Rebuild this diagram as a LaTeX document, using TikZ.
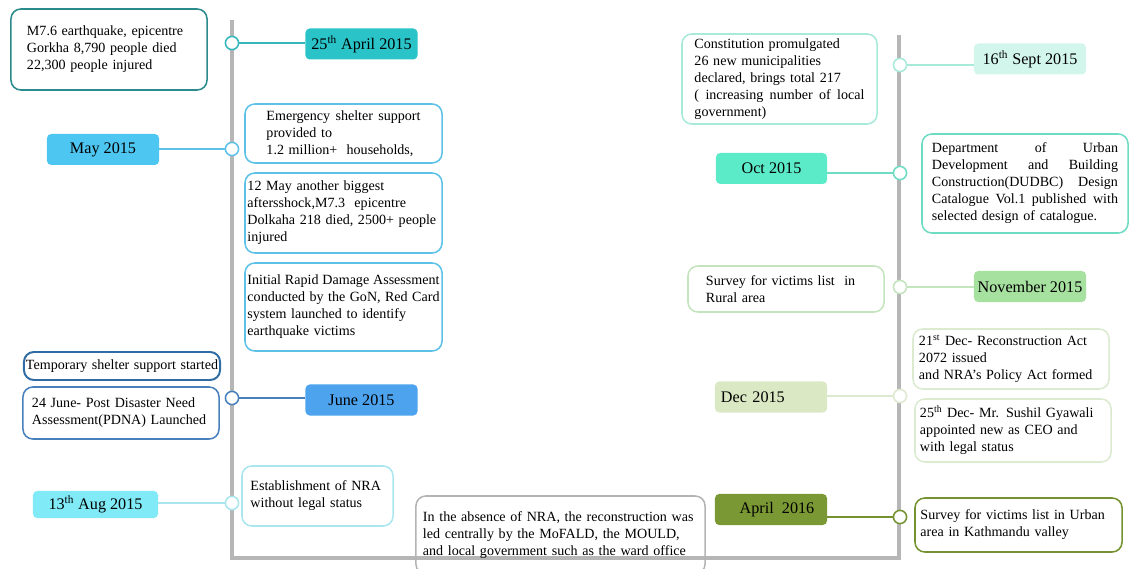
\documentclass[tikz,border=0pt]{standalone}
\usepackage{fontspec}
\setmainfont{Liberation Serif}
\usepackage{xcolor}
\usepackage{tikz}
\usetikzlibrary{positioning}
\definecolor{spine}{RGB}{182,182,182}
\definecolor{quakeline}{RGB}{42,138,140}
\definecolor{aprfill}{RGB}{42,196,200}
\definecolor{aprline}{RGB}{52,182,186}
\definecolor{mayfill}{RGB}{78,198,242}
\definecolor{mayline}{RGB}{94,194,232}
\definecolor{junefill}{RGB}{77,163,238}
\definecolor{juneline}{RGB}{72,128,188}
\definecolor{junedark}{RGB}{47,108,164}
\definecolor{augfill}{RGB}{128,234,246}
\definecolor{augline}{RGB}{170,230,238}
\definecolor{absenceline}{RGB}{180,180,180}
\definecolor{septfill}{RGB}{210,246,236}
\definecolor{septline}{RGB}{168,234,218}
\definecolor{octfill}{RGB}{92,235,201}
\definecolor{octline}{RGB}{110,220,195}
\definecolor{novfill}{RGB}{167,225,160}
\definecolor{novline}{RGB}{196,228,190}
\definecolor{decfill}{RGB}{218,232,195}
\definecolor{decline}{RGB}{220,234,208}
\definecolor{aprsixfill}{RGB}{122,152,51}
\definecolor{aprsixline}{RGB}{118,146,48}

\begin{document}
\begin{tikzpicture}[x=0.025cm, y=-0.025cm,
    datebox/.style={rounded corners=3pt, minimum width=2.8cm, minimum height=0.775cm,
      inner sep=0pt, font=\fontsize{11.5}{13}\selectfont},
    eventbox/.style={draw, line width=1.1pt, rounded corners=7pt, inner sep=0pt,
      align=left, font=\fontsize{10}{12.1}\selectfont},
    dot/.style={circle, draw, fill=white, line width=1.1pt, minimum size=0.33cm, inner sep=0pt},
    link/.style={line width=1.5pt}]
  \path[use as bounding box, clip] (0,0) rectangle (1130,569);
  % the timeline
  \draw[line width=2.2pt, spine] (232,20) -- (232,558) -- (899,558) -- (899,35);

  % 25th April 2015
  \node[eventbox, draw=quakeline, minimum width=4.9cm, minimum height=2.025cm, text width=4.1cm]
    (quake) at (109,49.5) {M7.6 earthquake, epicentre\\Gorkha 8,790 people died\\22,300 people injured};
  \node[dot, draw=aprline] (d1) at (232,43) {};
  \node[datebox, fill=aprfill] (apr) at (361.5,44) {25\textsuperscript{th} April 2015};
  \draw[link, aprline] (d1) -- (d1 -| apr.west);

  % May 2015
  \node[datebox, fill=mayfill] (may) at (103,149.5) {May 2015\hspace{0.3cm}};
  \node[dot, draw=mayline] (d2) at (232,149) {};
  \draw[link, mayline] (d2) -- (d2 -| may.east);
  \node[eventbox, draw=mayline, minimum width=4.925cm, minimum height=1.475cm, text width=3.85cm]
    (shelter) at (343.5,133.5) {Emergency\hfill shelter\hfill support\\provided to\\1.2 million+\ \ households,};
  \node[eventbox, draw=mayline, minimum width=4.925cm, minimum height=2cm, text width=4.8cm]
    (aftershock) at (343.5,213) {12 May another biggest\\aftersshock,M7.3 \ epicentre\\Dolkaha 218 died, 2500+ people\\injured};
  \node[eventbox, draw=mayline, minimum width=4.925cm, minimum height=2.2cm, text width=4.8cm]
    (redcard) at (343.5,307) {Initial\hfill Rapid\hfill Damage\hfill Assessment\\conducted\hfill by\hfill the\hfill GoN,\hfill Red\hfill Card\\system launched to identify\\earthquake victims};

  % June 2015
  \node[eventbox, draw=junedark, line width=1.4pt, minimum width=4.9cm, minimum height=0.7cm, text width=4.8cm]
    (temporary) at (122,366) {Temporary\hfill shelter\hfill support\hfill started};
  \node[eventbox, draw=juneline, minimum width=4.9cm, minimum height=1.3cm, text width=4.45cm]
    (pdna) at (121,413) {24 June- Post Disaster Need\\Assessment(PDNA) Launched};
  \node[dot, draw=juneline] (d3) at (232,398) {};
  \node[datebox, fill=junefill] (june) at (361.5,400) {June 2015\hspace{0.35cm}};
  \draw[link, juneline] (d3) -- (d3 -| june.west);

  % 13th Aug 2015
  \node[datebox, fill=augfill, minimum width=3.125cm, minimum height=0.675cm]
    (aug) at (95.5,504.5) {13\textsuperscript{th} Aug 2015};
  \node[dot, draw=augline] (d4) at (232,503) {};
  \draw[link, augline] (d4) -- (d4 -| aug.east);
  \node[eventbox, draw=augline, minimum width=3.775cm, minimum height=1.5cm, text width=3.35cm]
    (nra) at (317.5,496) {Establishment of NRA\\without legal status};
  \node[eventbox, draw=absenceline, minimum width=7.225cm, minimum height=1.95cm, text width=6.875cm]
    (absence) at (560.5,535) {In the absence of NRA, the reconstruction was\\led centrally by the MoFALD, the MOULD,\\and local government such as the ward office};

  % 16th Sept 2015
  \node[eventbox, draw=septline, minimum width=4.875cm, minimum height=2.25cm, text width=4.25cm]
    (constitution) at (779.5,79) {Constitution promulgated\\26 new municipalities\\declared, brings total 217\\(\hfill increasing\hfill number\hfill of\hfill local\\government)};
  \node[dot, draw=septline] (d5) at (900,65) {};
  \node[datebox, fill=septfill] (sept) at (1030,59) {16\textsuperscript{th} Sept 2015};
  \draw[link, septline] (d5) -- (d5 -| sept.west);

  % Oct 2015
  \node[datebox, fill=octfill, minimum width=2.775cm] (oct) at (771.5,168.5) {Oct 2015\hspace{0.3cm}};
  \node[dot, draw=octline] (d6) at (900,173) {};
  \draw[link, octline] (d6) -- (d6 -| oct.east);
  \node[eventbox, draw=octline, minimum width=5.15cm, minimum height=2.475cm, text width=4.65cm]
    (catalogue) at (1025,183.5) {Department\hfill of\hfill Urban\\Development\hfill and\hfill Building\\Construction(DUDBC)\hfill Design\\Catalogue\hfill Vol.1\hfill published\hfill with\\selected design of catalogue.};

  % November 2015
  \node[eventbox, draw=novline, minimum width=4.9cm, minimum height=1.15cm, text width=4cm]
    (rural) at (786,289) {Survey for victims list \ in\\Rural area};
  \node[dot, draw=novline] (d7) at (900,287) {};
  \node[datebox, fill=novfill] (nov) at (1030,286.5) {November 2015};
  \draw[link, novline] (d7) -- (d7 -| nov.west);

  % Dec 2015
  \node[datebox, fill=decfill, align=left, text width=2.5cm] (dec) at (771,397) {Dec 2015};
  \node[dot, draw=decline] (d8) at (900,396) {};
  \draw[link, decline] (d8) -- (d8 -| dec.east);
  \node[eventbox, draw=decline, minimum width=4.9cm, minimum height=1.5cm, text width=4.6cm]
    (act) at (1011,359) {21\textsuperscript{st} Dec- Reconstruction Act\\2072 issued\\and NRA's Policy Act formed};
  \node[eventbox, draw=decline, minimum width=4.9cm, minimum height=1.575cm, text width=4.65cm]
    (ceo) at (1013,430.5) {25\textsuperscript{th} Dec- Mr. Sushil Gyawali\\appointed new as CEO and\\with legal status};

  % April 2016
  \node[datebox, fill=aprsixfill] (april) at (771,509.5) {\hspace{0.3cm}April\ \ 2016};
  \node[dot, draw=aprsixline] (d9) at (900,517) {};
  \draw[link, aprsixline] (d9) -- (d9 -| april.east);
  \node[eventbox, draw=aprsixline, minimum width=5.175cm, minimum height=1.35cm, text width=4.9cm]
    (urban) at (1018.5,525) {Survey for victims list in Urban\\area in Kathmandu valley};
\end{tikzpicture}
\end{document}
